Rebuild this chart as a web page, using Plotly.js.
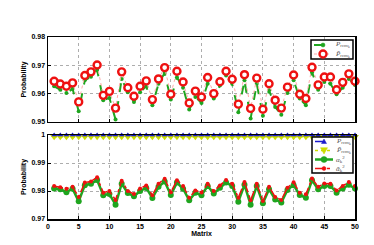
<!DOCTYPE html>
<html><head><meta charset="utf-8">
<script src="https://cdn.plot.ly/plotly-3.0.1.min.js"></script>
<style>html,body{margin:0;padding:0;background:#fff}#c{width:374px;height:245px}</style>
</head><body><div id="c"></div>
<script>
const matrix = Array.from({length:50},(_, i)=>i+1);
const pRcm = [0.9626,0.9614,0.9602,0.9617,0.9538,0.9647,0.9660,0.9684,0.9577,0.9585,
 0.9509,0.9652,0.9605,0.9571,0.9605,0.9626,0.9559,0.9635,0.9673,0.9579,
 0.9658,0.9621,0.9544,0.9588,0.9567,0.9635,0.9583,0.9629,0.9664,0.9635,
 0.9534,0.9647,0.9512,0.9635,0.9522,0.9612,0.9553,0.9526,0.9602,0.9647,
 0.9583,0.9559,0.9676,0.9614,0.9641,0.9635,0.9598,0.9621,0.9652,0.9631];
const pRcmBar = [0.9644,0.9634,0.9626,0.9638,0.9571,0.9664,0.9677,0.9701,0.9594,0.9608,
 0.9549,0.9677,0.9621,0.9591,0.9626,0.9645,0.9579,0.9652,0.9692,0.9598,
 0.9679,0.9641,0.9567,0.9609,0.9588,0.9657,0.9600,0.9642,0.9679,0.9651,
 0.9563,0.9667,0.9548,0.9655,0.9545,0.9635,0.9577,0.9549,0.9623,0.9666,
 0.9598,0.9583,0.9693,0.9631,0.9659,0.9659,0.9614,0.9640,0.9670,0.9644];
const pRcm2 = Array(50).fill(1.0);
const pRcm2Bar = Array(50).fill(0.9994);
const alpha = [0.9809,0.9806,0.9796,0.9808,0.9763,0.9821,0.9826,0.9839,0.9785,0.9789,
 0.9751,0.9826,0.9793,0.9781,0.9800,0.9811,0.9775,0.9815,0.9834,0.9786,
 0.9830,0.9808,0.9767,0.9794,0.9785,0.9818,0.9791,0.9812,0.9830,0.9818,
 0.9762,0.9822,0.9751,0.9818,0.9756,0.9806,0.9770,0.9759,0.9804,0.9821,
 0.9786,0.9776,0.9838,0.9806,0.9818,0.9818,0.9794,0.9809,0.9822,0.9809];
const alphaBar = [0.9818,0.9813,0.9808,0.9815,0.9779,0.9830,0.9834,0.9849,0.9794,0.9800,
 0.9768,0.9837,0.9800,0.9789,0.9809,0.9820,0.9785,0.9826,0.9844,0.9796,
 0.9838,0.9818,0.9776,0.9802,0.9795,0.9826,0.9800,0.9820,0.9839,0.9826,
 0.9776,0.9832,0.9767,0.9826,0.9764,0.9815,0.9779,0.9768,0.9812,0.9831,
 0.9794,0.9788,0.9845,0.9815,0.9827,0.9826,0.9802,0.9818,0.9832,0.9818];
const xTicks = [0,5,10,15,20,25,30,35,40,45,50];
const yTopTicks = [0.95,0.96,0.97,0.98];
const yTopLabels = ['0.95','0.96','0.97','0.98'];
const yBotTicks = [0.97,0.98,0.99,1];
const yBotLabels = ['0.97','0.98','0.99','1'];
const topNames = ['<i>P</i><sub>rcm<sub>k</sub></sub>','<i>P̄</i><sub>rcm<sub>k</sub></sub>'];
const botNames = ['<i>P</i><sub>rcm<sub>k</sub></sub>','<i>P̄</i><sub>rcm<sub>k</sub></sub>','<i>α</i><sub>k</sub><sup>2</sup>','<i>ᾱ</i><sub>k</sub><sup>2</sup>'];

const green = '#1fa51f', red = '#ee1111', blue = '#1a1acc', yel = '#ccdd00';
const st = {
  g:{line:{color:green,width:2,dash:'dash'},marker:{color:green,size:4,symbol:'circle'}},
  r:{line:{color:'#ffaaaa',width:1,dash:'dot'},marker:{color:'white',size:7,symbol:'circle',line:{color:red,width:2.4}}},
  b:{line:{color:blue,width:1.5,dash:'dash'},marker:{color:blue,size:5,symbol:'triangle-up'}},
  y:{line:{color:yel,width:1.5,dash:'dot'},marker:{color:yel,size:7,symbol:'triangle-down'}},
  a:{line:{color:green,width:2.5,dash:'solid'},marker:{color:green,size:6,symbol:'circle'}},
  ab:{line:{color:red,width:1.5,dash:'dashdot'},marker:{color:red,size:4,symbol:'circle'}}
};
function tr(y,xa,ya,s,name){return Object.assign({x:matrix,y:y,xaxis:xa,yaxis:ya,mode:'lines+markers',name:name,showlegend:false,cliponaxis:false},s);}
const traces = [
 tr(pRcm,'x','y',st.g,topNames[0]),
 tr(pRcmBar,'x','y',st.r,topNames[1]),
 tr(pRcm2Bar,'x2','y2',st.y,botNames[1]),
 tr(pRcm2,'x2','y2',st.b,botNames[0]),
 tr(alpha,'x2','y2',st.a,botNames[2]),
 tr(alphaBar,'x2','y2',st.ab,botNames[3])
];

// custom legends (pixel layout -> paper coords)
const L=48, W=307, B=219, H=182;
const px=v=>(v-L)/W, py=v=>(B-v)/H;
const shapes=[], annotations=[];
function box(x0,y0,x1,y1){shapes.push({type:'rect',xref:'paper',yref:'paper',x0:px(x0),x1:px(x1),y0:py(y1),y1:py(y0),line:{color:'#000',width:1.5},fillcolor:'#fff',layer:'above'});}
function marker(cx,cy,s){
  const m=s.marker, r=m.size/2;
  const base={xref:'paper',yref:'paper',layer:'above',
    fillcolor:m.color,line:{color:(m.line&&m.line.color)||m.color,width:(m.line&&m.line.width)||0.5}};
  if(m.symbol==='circle') shapes.push(Object.assign({type:'circle',x0:px(cx-r),x1:px(cx+r),y0:py(cy+r),y1:py(cy-r)},base));
  else if(m.symbol==='triangle-up') shapes.push(Object.assign({type:'path',path:`M${px(cx-r)},${py(cy+r*0.8)} L${px(cx+r)},${py(cy+r*0.8)} L${px(cx)},${py(cy-r)} Z`},base));
  else shapes.push(Object.assign({type:'path',path:`M${px(cx-r)},${py(cy-r*0.8)} L${px(cx+r)},${py(cy-r*0.8)} L${px(cx)},${py(cy+r)} Z`},base));
}
function entry(x,y,s,name){
  shapes.push({type:'line',xref:'paper',yref:'paper',x0:px(x),x1:px(x+18),y0:py(y),y1:py(y),line:{color:s.line.color,width:s.line.width,dash:s.line.dash},layer:'above'});
  marker(x+9,y,s);
  annotations.push({xref:'paper',yref:'paper',x:px(x+19),y:py(y),xanchor:'left',yanchor:'middle',showarrow:false,text:name,
    font:{family:'Liberation Serif, Times New Roman, serif',size:7,color:'#555'}});
}
box(311,40,353,59);
entry(314,45,st.g,topNames[0]);
entry(314,54,st.r,topNames[1]);
box(312,137,353,173);
entry(315,141.5,st.b,botNames[0]);
entry(315,150.5,st.y,botNames[1]);
entry(315,159.5,st.a,botNames[2]);
entry(315,168.5,st.ab,botNames[3]);

const tf = {family:'Liberation Sans, Arial, sans-serif',size:7,color:'#000',weight:'bold'};
const ax = {showline:true,mirror:true,linecolor:'#000',linewidth:1.5,ticks:'inside',ticklen:3,tickcolor:'#000',
  showgrid:true,gridcolor:'#999',griddash:'dot',gridwidth:0.8,zeroline:false,tickfont:tf};
const titleFont={family:'Liberation Sans, Arial, sans-serif',size:7,color:'#000',weight:'bold'};
const layout = {
  width:374,height:245,margin:{l:48,r:19,t:37,b:26},paper_bgcolor:'#fff',plot_bgcolor:'#fff',
  showlegend:false,shapes:shapes,annotations:annotations,
  xaxis:Object.assign({},ax,{domain:[0,1],range:[0,50],anchor:'y',tickvals:xTicks,showticklabels:false}),
  yaxis:Object.assign({},ax,{domain:[0.533,1],range:[0.95,0.98],anchor:'x',tickvals:yTopTicks,ticktext:yTopLabels,
    title:{text:'Probability',font:titleFont,standoff:4}}),
  xaxis2:Object.assign({},ax,{domain:[0,1],range:[0,50],anchor:'y2',tickvals:xTicks,
    title:{text:'Matrix',font:titleFont,standoff:0}}),
  yaxis2:Object.assign({},ax,{domain:[0,0.4615],range:[0.97,1],anchor:'x2',tickvals:yBotTicks,ticktext:yBotLabels,
    title:{text:'Probability',font:titleFont,standoff:4}})
};
Plotly.newPlot('c',traces,layout,{displayModeBar:false,staticPlot:true});
</script></body></html>
